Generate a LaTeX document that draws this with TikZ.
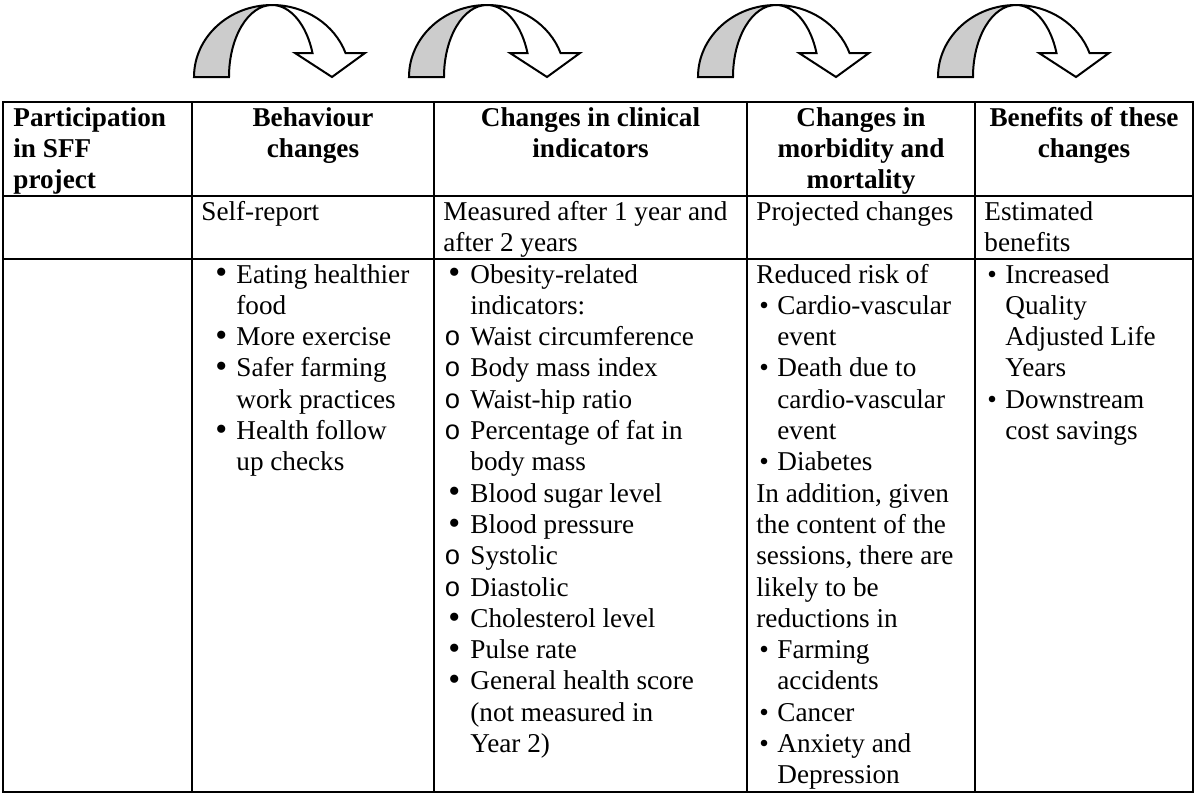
\documentclass[tikz,border=0pt]{standalone}
\usepackage{fontspec}
\setmainfont{Liberation Serif}
\newfontfamily\monofnt{Liberation Mono}
\newcommand{\cellfont}{\fontsize{13.6}{15.65}\selectfont}
\newcommand{\bigbul}{\raisebox{-0.4pt}{\scalebox{1.25}{\textbullet}}}
% column 2 bullets
\newcommand{\BI}{\makebox[17.5pt][l]{\hspace{7pt}\bigbul}}
\newcommand{\BC}{\hspace*{17.5pt}}
% column 3 bullets and sub-bullets
\newcommand{\CI}{\makebox[13.5pt][l]{\hspace{2.5pt}\bigbul}}
\newcommand{\CC}{\hspace*{13.5pt}}
\newcommand{\SI}{\makebox[13.5pt][l]{\hspace{0.5pt}{\monofnt o}}}
% columns 4 and 5 bullets
\newcommand{\SB}{\makebox[10.5pt][l]{\hspace{1.5pt}\textbullet}}
\newcommand{\SC}{\hspace*{10.5pt}}
\newcommand{\carrow}[1]{%
  \begin{scope}[shift={(#1,0)}]
    \filldraw[arrowline, fill=arrowgray] (194,-77)
      arc[start angle=180, end angle=90, x radius=78, y radius=72]
      arc[start angle=90, end angle=180, x radius=43, y radius=72] -- cycle;
    \filldraw[arrowline, fill=white] (272,-5)
      arc[start angle=90, end angle=19.47, x radius=78, y radius=72]
      -- (365,-53) -- (332,-77) -- (295,-53) -- (312.5,-53)
      arc[start angle=19.47, end angle=90, x radius=43, y radius=72] -- cycle;
  \end{scope}}
\definecolor{arrowgray}{RGB}{204,204,204}
\tikzset{
  arrowline/.style={draw=black, line width=1pt, line join=miter},
  grid/.style={draw=black, line width=1.1pt},
  cell/.style={anchor=base west, inner sep=0pt, font=\cellfont},
  head/.style={anchor=base, inner sep=0pt, font=\cellfont\bfseries},
}
\begin{document}
\begin{tikzpicture}[x=0.5pt, y=0.5pt]
\useasboundingbox (0,0) rectangle (1195,-794);
% curved arrows
\carrow{0}
\carrow{215}
\carrow{504}
\carrow{744}
% table grid
\draw[grid] (3,-102) rectangle (1193,-792);
\draw[grid] (3,-196) -- (1193,-196);
\draw[grid] (3,-259) -- (1193,-259);
\foreach \xx in {192,434,747,975} \draw[grid] (\xx,-102) -- (\xx,-792);
% header row
\node[cell, font=\cellfont\bfseries] (h1) at (13,-126) {\parbox[t]{85pt}{\raggedright Participation\\in SFF\\project}};
\node[head] (h2) at (313,-126) {\parbox[t]{115pt}{\centering Behaviour\\changes}};
\node[head] (h3) at (590.5,-126) {\parbox[t]{150pt}{\centering Changes in clinical\\indicators}};
\node[head] (h4) at (861,-126) {\parbox[t]{110pt}{\centering Changes in\\morbidity and\\mortality}};
\node[head] (h5) at (1084,-126) {\parbox[t]{105pt}{\centering Benefits of these\\changes}};
% second row
\node[cell] (r2) at (201,-220) {\parbox[t]{115pt}{\raggedright Self-report}};
\node[cell] (r3) at (443,-220) {\parbox[t]{150pt}{\raggedright Measured after 1 year and\\after 2 years}};
\node[cell] (r4) at (756,-220) {\parbox[t]{110pt}{\raggedright Projected changes}};
\node[cell] (r5) at (984,-220) {\parbox[t]{105pt}{\raggedright Estimated\\benefits}};
% body row
\node[cell] (b2) at (201,-283) {\parbox[t]{115pt}{\raggedright
\BI Eating healthier\\\BC food\\
\BI More exercise\\
\BI Safer farming\\\BC work practices\\
\BI Health follow\\\BC up checks}};
\node[cell] (b3) at (443,-283) {\parbox[t]{150pt}{\raggedright
\CI Obesity-related\\\CC indicators:\\
\SI Waist circumference\\
\SI Body mass index\\
\SI Waist-hip ratio\\
\SI Percentage of fat in\\\CC body mass\\
\CI Blood sugar level\\
\CI Blood pressure\\
\SI Systolic\\
\SI Diastolic\\
\CI Cholesterol level\\
\CI Pulse rate\\
\CI General health score\\\CC (not measured in\\\CC Year 2)}};
\node[cell] (b4) at (756,-283) {\parbox[t]{110pt}{\raggedright
Reduced risk of\\
\SB Cardio-vascular\\\SC event\\
\SB Death due to\\\SC cardio-vascular\\\SC event\\
\SB Diabetes\\
In addition, given\\the content of the\\sessions, there are\\likely to be\\reductions in\\
\SB Farming\\\SC accidents\\
\SB Cancer\\
\SB Anxiety and\\\SC Depression}};
\node[cell] (b5) at (984,-283) {\parbox[t]{105pt}{\raggedright
\SB Increased\\\SC Quality\\\SC Adjusted Life\\\SC Years\\
\SB Downstream\\\SC cost savings}};
\end{tikzpicture}
\end{document}
